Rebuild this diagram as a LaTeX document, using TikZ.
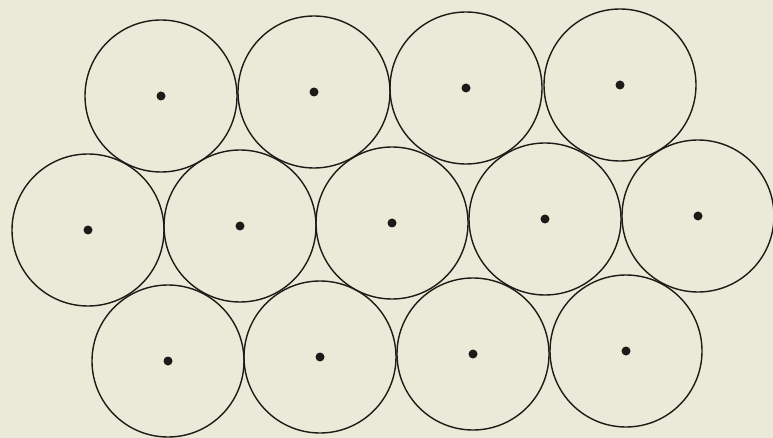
\documentclass[tikz,border=0pt]{standalone}
\usepackage{tikz}
\usetikzlibrary{positioning}
\definecolor{cPaper}{HTML}{EBE9D7}
\definecolor{cInk}{HTML}{1E1A18}
\tikzset{
  cell/.style = {circle, draw=cInk, line width=1.4pt, minimum size=152pt, inner sep=0pt},
  ctr/.style  = {circle, fill=cInk, minimum size=9pt, inner sep=0pt},
}

\begin{document}
\begin{tikzpicture}[x=1pt, y=-1pt]
  \fill[cPaper] (0,0) rectangle (773,438);
  \useasboundingbox (0,0) rectangle (773,438);

  % top row
  \foreach \n/\x/\y in {1/161/96, 2/314/92, 3/466/88, 4/620/85}
    \node[cell] (top\n) at (\x,\y) {} node[ctr] (topc\n) at (top\n.center) {};
  % middle row
  \foreach \n/\x/\y in {1/88/230, 2/240/226, 3/392/223, 4/545/219, 5/698/216}
    \node[cell] (mid\n) at (\x,\y) {} node[ctr] (midc\n) at (mid\n.center) {};
  % bottom row
  \foreach \n/\x/\y in {1/168/361, 2/320/357, 3/473/354, 4/626/351}
    \node[cell] (bot\n) at (\x,\y) {} node[ctr] (botc\n) at (bot\n.center) {};
\end{tikzpicture}
\end{document}
